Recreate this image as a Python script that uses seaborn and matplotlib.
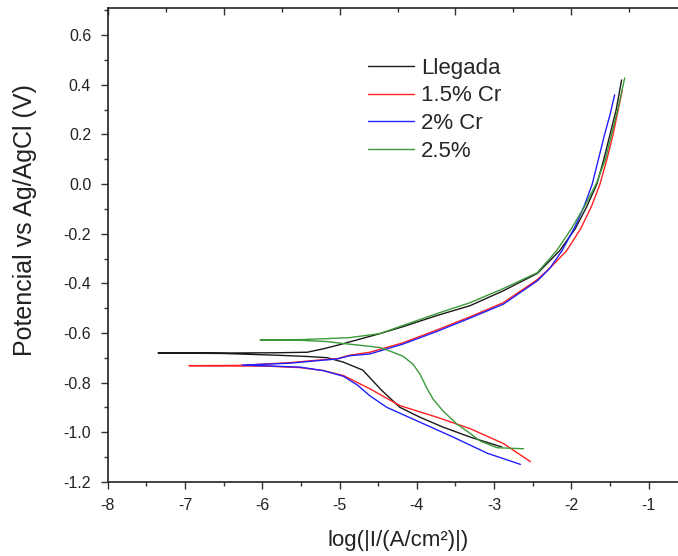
import numpy as np
import pandas as pd
import matplotlib
matplotlib.use("Agg")
import matplotlib.pyplot as plt
import seaborn as sns
from matplotlib.ticker import MultipleLocator, FormatStrFormatter

# ----------------------- DATA -----------------------
# each curve: cathodic end -> Ecorr (left dip) -> anodic end
llegada_x = [-2.90, -3.31, -3.66, -3.96, -4.22, -4.46, -4.61, -4.70, -4.95, -5.16, -5.42, -5.81,
             -6.50, -7.35, -6.50, -5.81, -5.42, -5.21, -5.03, -4.48, -4.18, -3.74, -3.31, -2.88,
             -2.44, -2.15, -1.95, -1.80, -1.67, -1.58, -1.50, -1.42, -1.35]
llegada_y = [-1.060, -1.020, -0.980, -0.940, -0.900, -0.830, -0.780, -0.750, -0.718, -0.700, -0.695, -0.690,
             -0.683, -0.681, -0.681, -0.680, -0.678, -0.664, -0.650, -0.603, -0.575, -0.530, -0.490, -0.430,
             -0.360, -0.268, -0.180, -0.090, 0.000, 0.100, 0.200, 0.300, 0.420]

cr15_x = [-2.53, -2.88, -3.31, -3.74, -4.22, -4.61, -4.77, -4.95, -5.21, -5.51, -5.94, -6.95,
          -6.30, -5.64, -5.29, -5.03, -4.87, -4.61, -4.18, -3.74, -3.31, -2.88, -2.44, -2.25,
          -2.06, -1.88, -1.74, -1.63, -1.54, -1.46, -1.40, -1.34]
cr15_y = [-1.119, -1.046, -0.986, -0.940, -0.893, -0.825, -0.800, -0.772, -0.752, -0.740, -0.734, -0.732,
          -0.731, -0.720, -0.710, -0.704, -0.690, -0.678, -0.640, -0.588, -0.535, -0.478, -0.385, -0.330,
          -0.268, -0.180, -0.090, 0.000, 0.100, 0.200, 0.290, 0.380]

cr2_x = [-2.66, -3.09, -3.53, -3.96, -4.39, -4.61, -4.77, -4.95, -5.21, -5.51, -5.94, -6.26,
         -5.64, -5.29, -5.03, -4.87, -4.61, -4.18, -3.74, -3.31, -2.88, -2.44, -2.28, -2.12,
         -1.95, -1.83, -1.73, -1.65, -1.57, -1.50, -1.44]
cr2_y = [-1.130, -1.085, -1.020, -0.960, -0.900, -0.853, -0.810, -0.775, -0.752, -0.738, -0.733, -0.730,
         -0.722, -0.712, -0.705, -0.692, -0.685, -0.645, -0.594, -0.540, -0.484, -0.390, -0.340, -0.268,
         -0.170, -0.085, 0.000, 0.100, 0.200, 0.280, 0.360]

cr25_x = [-2.62, -2.96, -3.18, -3.35, -3.48, -3.66, -3.79, -3.87, -3.96, -4.05, -4.18, -4.35,
          -4.48, -4.70, -4.95, -5.16, -5.50, -6.03, -5.50, -5.16, -4.87, -4.48, -4.18, -3.74,
          -3.31, -2.88, -2.44, -2.19, -2.00, -1.83, -1.68, -1.56, -1.48, -1.40, -1.31]
cr25_y = [-1.067, -1.063, -1.036, -0.996, -0.968, -0.915, -0.867, -0.823, -0.766, -0.726, -0.694, -0.673,
          -0.659, -0.651, -0.643, -0.635, -0.630, -0.628, -0.627, -0.623, -0.619, -0.603, -0.570, -0.522,
          -0.478, -0.421, -0.357, -0.268, -0.180, -0.090, 0.000, 0.100, 0.200, 0.300, 0.428]

series_names = ["Llegada", "1.5% Cr", "2% Cr", "2.5%"]
series_colors = ["#1a1a1a", "#ff2020", "#2020ff", "#3a9a3a"]

frames = []
for name, xs, ys in zip(series_names,
                        [llegada_x, cr15_x, cr2_x, cr25_x],
                        [llegada_y, cr15_y, cr2_y, cr25_y]):
    frames.append(pd.DataFrame({"logI": xs, "E": ys, "serie": name}))
df = pd.concat(frames, ignore_index=True)

# ----------------------- PLOT -----------------------
sns.set_style("ticks")
plt.rcParams["font.family"] = ["Liberation Sans", "DejaVu Sans"]
plt.rcParams["axes.unicode_minus"] = False

fig = plt.figure(figsize=(6.78, 5.56), dpi=100)
ax = fig.add_axes([0.159, 0.1336, 0.841, 0.852])

sns.lineplot(data=df, x="logI", y="E", hue="serie", units="serie", estimator=None,
             sort=False, palette=dict(zip(series_names, series_colors)),
             hue_order=series_names, linewidth=1.0, ax=ax)

ax.set_xlim(-8, -0.62)
ax.set_ylim(-1.2, 0.71)
ax.xaxis.set_major_locator(MultipleLocator(1))
ax.xaxis.set_minor_locator(MultipleLocator(0.5))
ax.yaxis.set_major_locator(MultipleLocator(0.2))
ax.yaxis.set_minor_locator(MultipleLocator(0.1))
ax.yaxis.set_major_formatter(FormatStrFormatter("%.1f"))

ax.tick_params(which="major", direction="out", length=5, width=1, labelsize=11.5, color="#333333", pad=7)
ax.tick_params(which="minor", direction="out", length=3, width=1, color="#333333")
ax.tick_params(axis="both", labelcolor="#222222")

# top axis ticks point inward with their own spacing
sec = ax.secondary_xaxis("top")
sec.xaxis.set_major_locator(MultipleLocator(1.5, offset=-8))
sec.xaxis.set_minor_locator(MultipleLocator(0.75, offset=-8))
sec.tick_params(which="major", direction="in", length=5, width=1, color="#333333", labeltop=False)
sec.tick_params(which="minor", direction="in", length=3, width=1, color="#333333")
sec.spines["top"].set_linewidth(1.2)
sec.spines["top"].set_color("#222222")

for s in ["left", "bottom"]:
    ax.spines[s].set_linewidth(1.2)
    ax.spines[s].set_color("#222222")
ax.spines["right"].set_visible(False)
ax.spines["top"].set_visible(False)

ax.set_xlabel("log(|I/(A/cm²)|)", fontsize=16, color="#222222")
ax.xaxis.set_label_coords(0.51, -0.101)
ax.set_ylabel("Potencial vs Ag/AgCl (V)", fontsize=18, color="#222222")
ax.yaxis.set_label_coords(-0.125, 0.553)

handles, labels = ax.get_legend_handles_labels()
ax.legend(handles, labels, frameon=False, fontsize=16, loc="upper left",
          bbox_to_anchor=(0.526, 0.916), bbox_transform=fig.transFigure,
          handlelength=2.07, handletextpad=0.32, labelspacing=0.3, borderpad=0)

fig.savefig("out.png", dpi=100)
